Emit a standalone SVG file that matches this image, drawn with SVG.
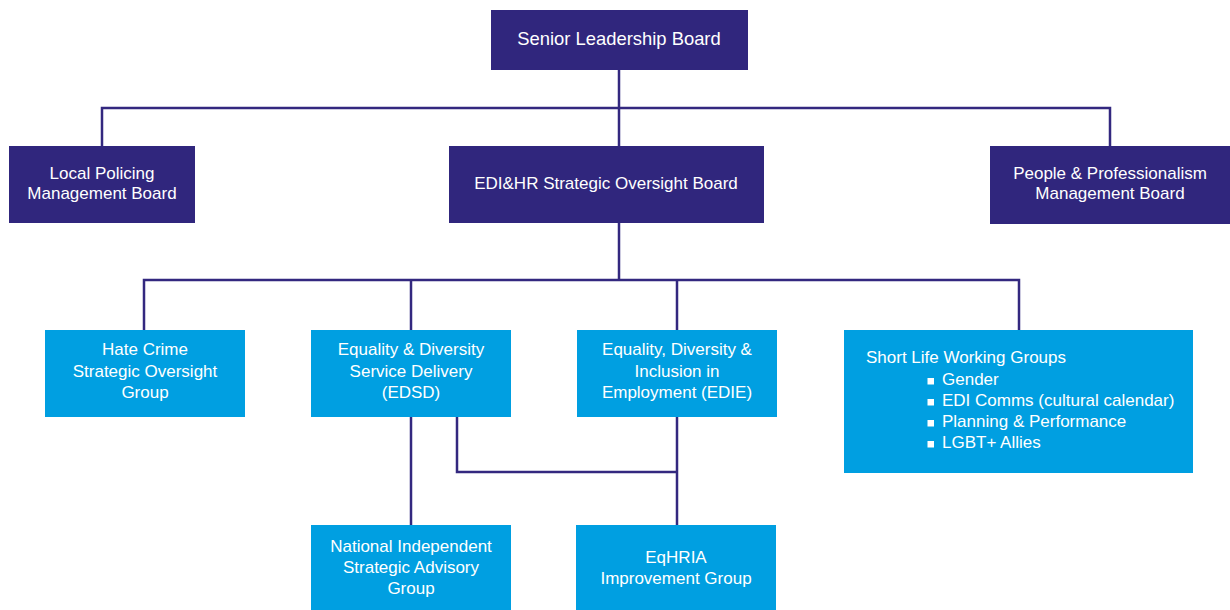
<svg xmlns="http://www.w3.org/2000/svg" width="1230" height="610" viewBox="0 0 1230 610">
<style>
.dark{fill:#30267d}
.light{fill:#009fe1}
text{font-family:"Liberation Sans",Arial,sans-serif;font-size:17px;fill:#ffffff;text-anchor:middle}
.lead{font-size:18.4px}
.left{text-anchor:start}
.conn{fill:none;stroke:#33287f;stroke-width:2.5}
.bullet{fill:#ffffff}
</style>
<rect width="1230" height="610" fill="#ffffff"/>
<g id="connectors">
<path class="conn" d="M619,69 V146 M102,146 V108 H1110 V146"/>
<path class="conn" d="M619,223 V280 M144,330 V280 H1019 V330 M411,280 V330 M677,280 V330"/>
<path class="conn" d="M411,417 V525 M677,417 V525 M457,417 V472 H677"/>
</g>
<g id="slb">
<rect class="dark" x="491" y="10" width="257" height="60"/>
<text class="lead" x="619" y="44.5">Senior Leadership Board</text>
</g>
<g id="lpmb">
<rect class="dark" x="9" y="146" width="186" height="77"/>
<text x="102" y="179">Local Policing</text>
<text x="102" y="199">Management Board</text>
</g>
<g id="edihr">
<rect class="dark" x="449" y="146" width="315" height="77"/>
<text x="606" y="189">EDI&amp;HR Strategic Oversight Board</text>
</g>
<g id="ppmb">
<rect class="dark" x="990" y="146" width="240" height="78"/>
<text x="1110" y="179">People &amp; Professionalism</text>
<text x="1110" y="199">Management Board</text>
</g>
<g id="hate">
<rect class="light" x="45" y="330" width="200" height="87"/>
<text x="145" y="355">Hate Crime</text>
<text x="145" y="377">Strategic Oversight</text>
<text x="145" y="398">Group</text>
</g>
<g id="edsd">
<rect class="light" x="311" y="330" width="200" height="87"/>
<text x="411" y="355">Equality &amp; Diversity</text>
<text x="411" y="377">Service Delivery</text>
<text x="411" y="398">(EDSD)</text>
</g>
<g id="edie">
<rect class="light" x="577" y="330" width="200" height="87"/>
<text x="677" y="355">Equality, Diversity &amp;</text>
<text x="677" y="377">Inclusion in</text>
<text x="677" y="398">Employment (EDIE)</text>
</g>
<g id="slwg">
<rect class="light" x="844" y="330" width="349" height="143"/>
<text class="left" x="866" y="363">Short Life Working Groups</text>
<rect class="bullet" x="927.5" y="378" width="6.5" height="6.5"/>
<text class="left" x="942" y="385">Gender</text>
<rect class="bullet" x="927.5" y="399" width="6.5" height="6.5"/>
<text class="left" x="942" y="406">EDI Comms (cultural calendar)</text>
<rect class="bullet" x="927.5" y="420" width="6.5" height="6.5"/>
<text class="left" x="942" y="427">Planning &amp; Performance</text>
<rect class="bullet" x="927.5" y="441" width="6.5" height="6.5"/>
<text class="left" x="942" y="448">LGBT+ Allies</text>
</g>
<g id="nisag">
<rect class="light" x="311" y="525" width="200" height="90"/>
<text x="411" y="552">National Independent</text>
<text x="411" y="573">Strategic Advisory</text>
<text x="411" y="594">Group</text>
</g>
<g id="eqhria">
<rect class="light" x="576" y="525" width="200" height="90"/>
<text x="676" y="563">EqHRIA</text>
<text x="676" y="584">Improvement Group</text>
</g>
</svg>
